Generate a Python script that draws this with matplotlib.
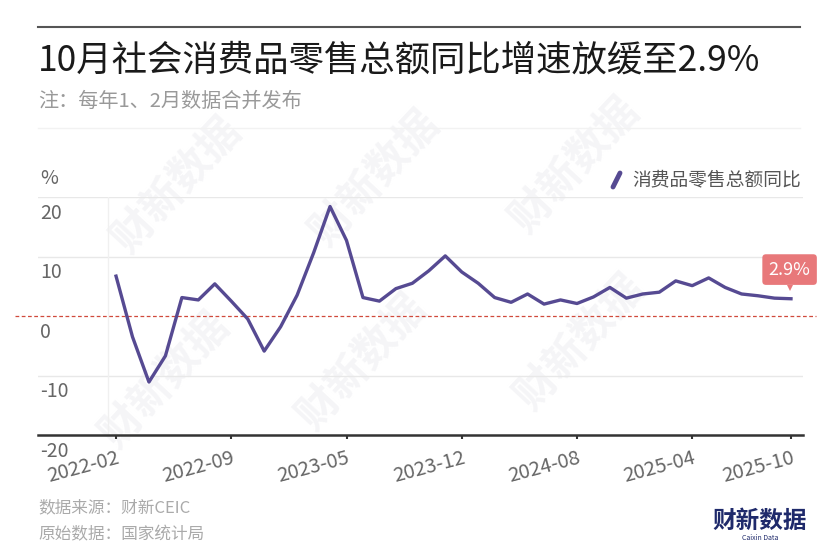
import matplotlib
matplotlib.use("Agg")
import matplotlib.pyplot as plt
from matplotlib.lines import Line2D
from matplotlib.transforms import ScaledTranslation

plt.rcParams['font.family'] = ['Noto Sans CJK SC', 'DejaVu Sans']

# monthly data (Jan and Feb released together)
months = [
    '2022-02', '2022-03', '2022-04', '2022-05', '2022-06', '2022-07', '2022-08',
    '2022-09', '2022-10', '2022-11', '2022-12',
    '2023-02', '2023-03', '2023-04', '2023-05', '2023-06', '2023-07', '2023-08',
    '2023-09', '2023-10', '2023-11', '2023-12',
    '2024-02', '2024-03', '2024-04', '2024-05', '2024-06', '2024-07', '2024-08',
    '2024-09', '2024-10', '2024-11', '2024-12',
    '2025-02', '2025-03', '2025-04', '2025-05', '2025-06', '2025-07', '2025-08',
    '2025-09', '2025-10',
]
retail_yoy = [
    6.7, -3.5, -11.1, -6.7, 3.1, 2.7, 5.4, 2.5, -0.5, -5.9, -1.8,
    3.5, 10.6, 18.4, 12.7, 3.1, 2.5, 4.6, 5.5, 7.6, 10.1, 7.4,
    5.5, 3.1, 2.3, 3.7, 2.0, 2.7, 2.1, 3.2, 4.8, 3.0, 3.7,
    4.0, 5.9, 5.1, 6.4, 4.8, 3.7, 3.4, 3.0, 2.9,
]
tick_labels = ['2022-02', '2022-09', '2023-05', '2023-12', '2024-08', '2025-04', '2025-10']
y_ticks = [20, 10, 0, -10, -20]

LINE = '#564a92'
GRID = '#e8e8e8'
W, H = 840, 560


def fx(px):
    return px / W


def fy(py):
    return 1 - py / H


fig = plt.figure(figsize=(8.4, 5.6), dpi=100)
ax = fig.add_axes([fx(38), fy(435), fx(803) - fx(38), fy(197) - fy(435)])
ax.patch.set_alpha(0)

# faint watermarks behind everything
for cx, cy in [(177, 185), (375, 178), (575, 165),
               (165, 380), (362, 362), (580, 342)]:
    fig.text(fx(cx), fy(cy), '财新数据', fontsize=30, fontweight='bold',
             color='#f5f5f7', rotation=47, ha='center', va='center', zorder=-5)

x = list(range(len(months)))
ax.plot(x, retail_yoy, color=LINE, linewidth=2.4, solid_joinstyle='round', zorder=3)

ax.set_xlim(-4.74, len(months) - 1 + 0.73)
ax.set_ylim(-20, 20)

# grid lines
for v in (20, 10, -10):
    ax.axhline(v, color=GRID, linewidth=1, zorder=1)
ax.axvline(-0.49, color='#f0f0f0', linewidth=1, zorder=1)
ax.axhline(0, xmin=-0.03, xmax=1.017, color='#d04a3c', linewidth=0.9,
           linestyle=(0, (3, 2)), clip_on=False, zorder=2)

for s in ['top', 'right', 'left']:
    ax.spines[s].set_visible(False)
ax.spines['bottom'].set_color('#333333')
ax.spines['bottom'].set_linewidth(1.8)

ax.set_yticks([])
ticks = [months.index(t) for t in tick_labels]
ax.set_xticks(ticks)
ax.set_xticklabels(tick_labels, rotation=15, ha='right', rotation_mode='anchor',
                   fontsize=14.5, color='#666666')
ax.tick_params(axis='x', length=3, width=1.5, color='#333333', pad=6)

# y labels sit under their grid lines
for v in y_ticks:
    ax.annotate(str(v), xy=(0, v), xycoords=('axes fraction', 'data'),
                xytext=(1.5, -4), textcoords='offset points',
                ha='left', va='top', fontsize=14, color='#666666')

# last value label with a small pointer
ax.annotate('2.9%', xy=(x[-1], retail_yoy[-1]), xytext=(-1, 21),
            textcoords='offset points', ha='center', va='center',
            fontsize=13, color='white',
            bbox=dict(boxstyle='round,pad=0.35,rounding_size=0.2',
                      fc='#e8787a', ec='none'), zorder=5)
ax.plot([x[-1] - 0.05], [retail_yoy[-1]], marker='v', markersize=5,
        color='#e8787a', linestyle='none', clip_on=False, zorder=4,
        markeredgewidth=0,
        transform=ax.transData + ScaledTranslation(0, 8 / 72, fig.dpi_scale_trans))

# header
fig.add_artist(Line2D([fx(38), fx(800)], [fy(27), fy(27)], color='#555555', linewidth=1.5))
fig.text(fx(38), fy(61), '10月社会消费品零售总额同比增速放缓至2.9%', fontsize=25.5,
         color='#1a1a1a', ha='left', va='center')
fig.text(fx(38), fy(101), '注：每年1、2月数据合并发布', fontsize=14.5,
         color='#999999', ha='left', va='center')
fig.add_artist(Line2D([fx(38), fx(800)], [fy(128), fy(128)], color='#f2f2f2', linewidth=1))

fig.text(fx(40), fy(179), '%', fontsize=14, color='#666666', ha='left', va='center')

# legend
fig.add_artist(Line2D([fx(613), fx(620)], [fy(187), fy(173)], color=LINE,
                      linewidth=3.5, solid_capstyle='round'))
fig.text(fx(632), fy(180), '消费品零售总额同比', fontsize=13.5, color='#555555',
         ha='left', va='center')

# footer
fig.text(fx(38), fy(508), '数据来源：财新CEIC', fontsize=12, color='#aaaaaa',
         ha='left', va='center')
fig.text(fx(38), fy(535), '原始数据：国家统计局', fontsize=12, color='#aaaaaa',
         ha='left', va='center')
fig.text(fx(760), fy(521), '财新数据', fontsize=17, fontweight='bold', color='#1f2a6b',
         ha='center', va='center')
fig.text(fx(760), fy(538), 'Caixin Data', fontsize=5, color='#1f2a6b',
         ha='center', va='center')

fig.savefig('out.png', dpi=100, facecolor='white')
